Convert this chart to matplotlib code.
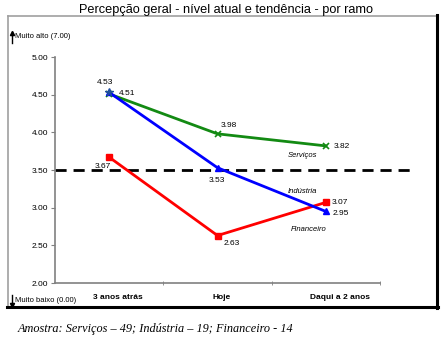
import matplotlib.pyplot as plt
import matplotlib.transforms as mtransforms
from matplotlib.lines import Line2D

plt.rcParams['font.family'] = ['Liberation Sans', 'DejaVu Sans']

categories = ['3 anos atrás', 'Hoje', 'Daqui a 2 anos']
servicos = [4.51, 3.98, 3.82]
industria = [4.53, 3.53, 2.95]
financeiro = [3.67, 2.63, 3.07]
media = 3.5

W, H = 446, 344
fig = plt.figure(figsize=(W / 100, H / 100), dpi=100)
ax = fig.add_axes([55 / W, 1 - 283 / H, 325 / W, 226 / H])

xs = [0.5, 1.5, 2.5]

# reference line, runs past the plot area to the right
ax.axhline(media, xmin=0, xmax=355 / 325, color='black', lw=2, ls=(0, (4, 2.5)),
           clip_on=False, zorder=2)

ax.plot(xs, servicos, color='#138a13', lw=2, marker='x', ms=5, mew=1.2, zorder=3)
ax.plot(xs, industria, color='#0000ff', lw=2, marker='^', ms=5, zorder=4)
ax.plot(xs[:1], industria[:1], color='#1f4f9a', lw=0, marker='*', ms=5.5, zorder=5)
ax.plot(xs, financeiro, color='#ff0000', lw=2, marker='s', ms=5, zorder=3)

def lab(x, y, s, dx, dy, ha='center'):
    ax.annotate(s, (x, y), xytext=(dx, -dy), textcoords='offset pixels',
                ha=ha, va='center', fontsize=6, zorder=6)

lab(xs[0], industria[0], '%.2f' % industria[0], -4, -10)
lab(xs[0], servicos[0], '%.2f' % servicos[0], 10, 0, ha='left')
lab(xs[1], servicos[1], '%.2f' % servicos[1], 11, -8)
lab(xs[2], servicos[2], '%.2f' % servicos[2], 8, 1, ha='left')
lab(xs[1], industria[1], '%.2f' % industria[1], -1, 13)
lab(xs[2], financeiro[2], '%.2f' % financeiro[2], 6, 0, ha='left')
lab(xs[2], industria[2], '%.2f' % industria[2], 7, 2, ha='left')
lab(xs[1], financeiro[1], '%.2f' % financeiro[1], 14, 8)
lab(xs[0], financeiro[0], '%.2f' % financeiro[0], -6, 9)

def serie(x, y, s, dx, dy):
    ax.annotate(s, (x, y), xytext=(dx, -dy), textcoords='offset pixels',
                ha='center', va='center', fontsize=5.5, style='italic', zorder=6)

serie(xs[2], servicos[2], 'Serviços', -23, 10)
serie(xs[2], industria[2], 'Indústria', -23, -20)
serie(xs[2], financeiro[2], 'Financeiro', -17, 27)

ax.set_xlim(0, 3)
ax.set_ylim(2, 5)
ax.set_yticks([2, 2.5, 3, 3.5, 4, 4.5, 5])
ax.set_yticklabels(['%.2f' % v for v in [2, 2.5, 3, 3.5, 4, 4.5, 5]], fontsize=6)
ax.set_xticks(xs)
ax.set_xticklabels(categories, fontsize=6, fontweight='bold')
ax.set_xticks([1, 2, 3], minor=True)
ax.tick_params(axis='x', which='major', length=0, pad=8)
ax.tick_params(axis='x', which='minor', length=3, color='#808080', direction='inout')
ax.tick_params(axis='y', length=3, color='#808080', pad=2)
for t, dx in zip(ax.get_xticklabels(), [9, 4, 14]):
    t.set_transform(t.get_transform() + mtransforms.Affine2D().translate(dx, 0))
for side in ['top', 'right']:
    ax.spines[side].set_visible(False)
for side in ['left', 'bottom']:
    ax.spines[side].set_color('#808080')
    ax.spines[side].set_linewidth(1.2)

# outer frame
def fl(x0, y0, x1, y1, c, w):
    fig.add_artist(Line2D([x0 / W, x1 / W], [1 - y0 / H, 1 - y1 / H],
                          color=c, lw=w, transform=fig.transFigure))

fl(8, 16, 437, 16, '#a0a0a0', 1.2)
fl(8, 16, 8, 307, '#a0a0a0', 1.2)
fl(437, 15, 437, 308, 'black', 2.2)
fl(7, 307, 438, 307, 'black', 2.2)

fig.text(226 / W, 1 - 10 / H, 'Percepção geral - nível atual e tendência - por ramo',
         ha='center', va='center', fontsize=9.2)
fig.text(15 / W, 1 - 37 / H, 'Muito alto (7.00)', ha='left', va='center', fontsize=5.5)
fig.text(15 / W, 1 - 300 / H, 'Muito baixo (0.00)', ha='left', va='center', fontsize=5.5)
fig.add_artist(Line2D([12 / W, 12 / W], [1 - 43 / H, 1 - 32 / H], color='black', lw=1,
                      transform=fig.transFigure))
fig.add_artist(Line2D([12 / W], [1 - 33 / H], color='black', marker='^', ms=3,
                      transform=fig.transFigure))
fig.add_artist(Line2D([12 / W, 12 / W], [1 - 295 / H, 1 - 306 / H], color='black', lw=1,
                      transform=fig.transFigure))
fig.add_artist(Line2D([12 / W], [1 - 305 / H], color='black', marker='v', ms=3,
                      transform=fig.transFigure))
fig.text(18 / W, 1 - 329 / H, 'Amostra: Serviços – 49; Indústria – 19; Financeiro - 14',
         ha='left', va='center', fontsize=8.8, style='italic', family='Liberation Serif')

fig.savefig('out.png', dpi=100)
